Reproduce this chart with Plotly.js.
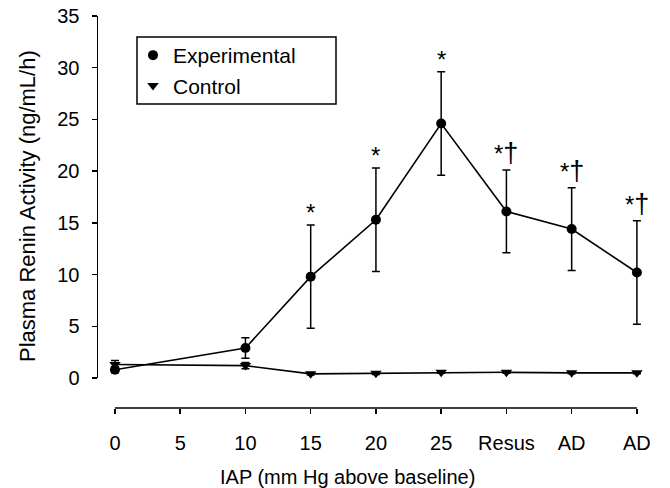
<!DOCTYPE html>
<html>
<head>
<meta charset="utf-8">
<script src="https://cdn.plot.ly/plotly-3.0.1.min.js"></script>
<style>
  html, body { margin: 0; padding: 0; background: #fff; }
  #chart { width: 670px; height: 488px; }
</style>
</head>
<body>
<div id="chart"></div>
<script>
// Category keys (unique) and their displayed tick labels
const categories = ['0', '5', '10', '15', '20', '25', 'Resus', 'AD-1', 'AD-2'];
const tickLabels = ['0', '5', '10', '15', '20', '25', 'Resus', 'AD', 'AD'];

// Measured time points
const pointCategories = ['0', '10', '15', '20', '25', 'Resus', 'AD-1', 'AD-2'];

// Experimental group (mean, error)
const expValues = [0.8, 2.9, 9.8, 15.3, 24.6, 16.1, 14.4, 10.2];
const expErrors = [0.3, 1.0, 5.0, 5.0, 5.0, 4.0, 4.0, 5.0];

// Control group (mean, error)
const ctlValues = [1.3, 1.2, 0.4, 0.45, 0.55, 0.55, 0.5, 0.5];
const ctlErrors = [0.4, 0.3, 0.1, 0.1, 0.1, 0.1, 0.1, 0.1];

// Significance markers
const sigCategories = ['15', '20', '25', 'Resus', 'AD-1', 'AD-2'];
const sigLabels = ['*', '*', '*', '*†', '*†', '*†'];

const xTitle = 'IAP (mm Hg above baseline)';
const yTitle = 'Plasma Renin Activity (ng/mL/h)';

const FONT = 'Liberation Sans, Arial, Helvetica, sans-serif';
const BLACK = '#000';

// plot-area geometry helpers (pixels -> paper fractions)
const PL = 98, PR = 663, PT = 16, PB = 408;
const px2x = (p) => (p - PL) / (PR - PL);
const px2y = (p) => 1 - (p - PT) / (PB - PT);

const errStyle = (arr) => ({
  type: 'data', array: arr, visible: true,
  color: BLACK, thickness: 1.5, width: 4
});

const traces = [
  { // Experimental line
    x: pointCategories, y: expValues, type: 'scatter', mode: 'lines',
    line: { color: BLACK, width: 1.6 }, showlegend: false, hoverinfo: 'skip'
  },
  { // Control line
    x: pointCategories, y: ctlValues, type: 'scatter', mode: 'lines',
    line: { color: BLACK, width: 1.6 }, showlegend: false, hoverinfo: 'skip'
  },
  {
    name: 'Experimental', x: pointCategories, y: expValues, type: 'scatter', mode: 'markers',
    marker: { symbol: 'circle', size: 10, color: BLACK },
    error_y: errStyle(expErrors), cliponaxis: false
  },
  {
    name: 'Control', x: pointCategories, y: ctlValues, type: 'scatter', mode: 'markers',
    marker: { symbol: 'triangle-down', size: 10, color: BLACK },
    error_y: errStyle(ctlErrors), cliponaxis: false
  }
];

// Significance annotations positioned above each experimental error bar
const annotations = sigCategories.map((c, i) => {
  const k = pointCategories.indexOf(c);
  const top = expValues[k] + expErrors[k];
  const hasDagger = sigLabels[i].indexOf('†') >= 0;
  const txt = sigLabels[i]
    .replace('*', '<span style="font-size:24px">*</span>')
    .replace('†', '<span style="font-size:27px">†</span>');
  return {
    x: categories.indexOf(c), y: top, xref: 'x', yref: 'y', text: txt, showarrow: false,
    xanchor: 'center', yanchor: 'bottom', yshift: hasDagger ? 0 : -3,
    font: { family: FONT, size: 20, color: BLACK }
  };
});

// Axis titles as annotations (positioned like the reference)
annotations.push({
  text: xTitle, xref: 'paper', yref: 'paper', x: px2x(347), y: px2y(477),
  xanchor: 'center', yanchor: 'middle', showarrow: false,
  font: { family: FONT, size: 20, color: BLACK }
});
annotations.push({
  text: yTitle, xref: 'paper', yref: 'paper', x: px2x(28), y: px2y(206),
  xanchor: 'center', yanchor: 'middle', showarrow: false, textangle: -90,
  font: { family: FONT, size: 22, color: BLACK }
});

const layout = {
  width: 670, height: 488,
  margin: { l: PL, r: 670 - PR, t: PT, b: 488 - PB },
  paper_bgcolor: '#fff', plot_bgcolor: '#fff',
  font: { family: FONT, size: 20, color: BLACK },
  showlegend: true,
  legend: {
    x: px2x(133), y: px2y(35), xanchor: 'left', yanchor: 'top',
    borderwidth: 0, bgcolor: 'rgba(0,0,0,0)',
    font: { family: FONT, size: 21, color: BLACK },
    tracegroupgap: 0
  },
  xaxis: {
    type: 'category', categoryorder: 'array', categoryarray: categories,
    range: [-0.26, 8.4],
    anchor: 'free', position: 0,
    tickvals: categories, ticktext: tickLabels,
    showline: false, showgrid: false, zeroline: false,
    ticks: 'outside', ticklen: 5, tickwidth: 1.5, tickcolor: BLACK,
    ticklabelstandoff: 12,
    tickfont: { family: FONT, size: 20, color: BLACK },
    automargin: false, fixedrange: true
  },
  yaxis: {
    domain: [0.0765, 1], range: [0, 35],
    tickvals: [0, 5, 10, 15, 20, 25, 30, 35],
    showline: true, linecolor: BLACK, linewidth: 1.5,
    showgrid: false, zeroline: false,
    ticks: 'outside', ticklen: 5, tickwidth: 1.5, tickcolor: BLACK,
    ticklabelstandoff: 8,
    tickfont: { family: FONT, size: 20, color: BLACK },
    automargin: false, fixedrange: true
  },
  shapes: [
    { // detached x-axis baseline spanning first to last tick
      type: 'line', xref: 'x', yref: 'paper',
      x0: 0, x1: categories.length - 1, y0: 0, y1: 0,
      line: { color: BLACK, width: 1.5 }
    },
    { // legend frame
      type: 'rect', xref: 'paper', yref: 'paper',
      x0: px2x(137), x1: px2x(336), y0: px2y(104), y1: px2y(37),
      line: { color: BLACK, width: 1.5 }, fillcolor: 'rgba(0,0,0,0)', layer: 'above'
    }
  ],
  annotations: annotations
};

Plotly.newPlot('chart', traces, layout, { displayModeBar: false, staticPlot: true });
</script>
</body>
</html>
